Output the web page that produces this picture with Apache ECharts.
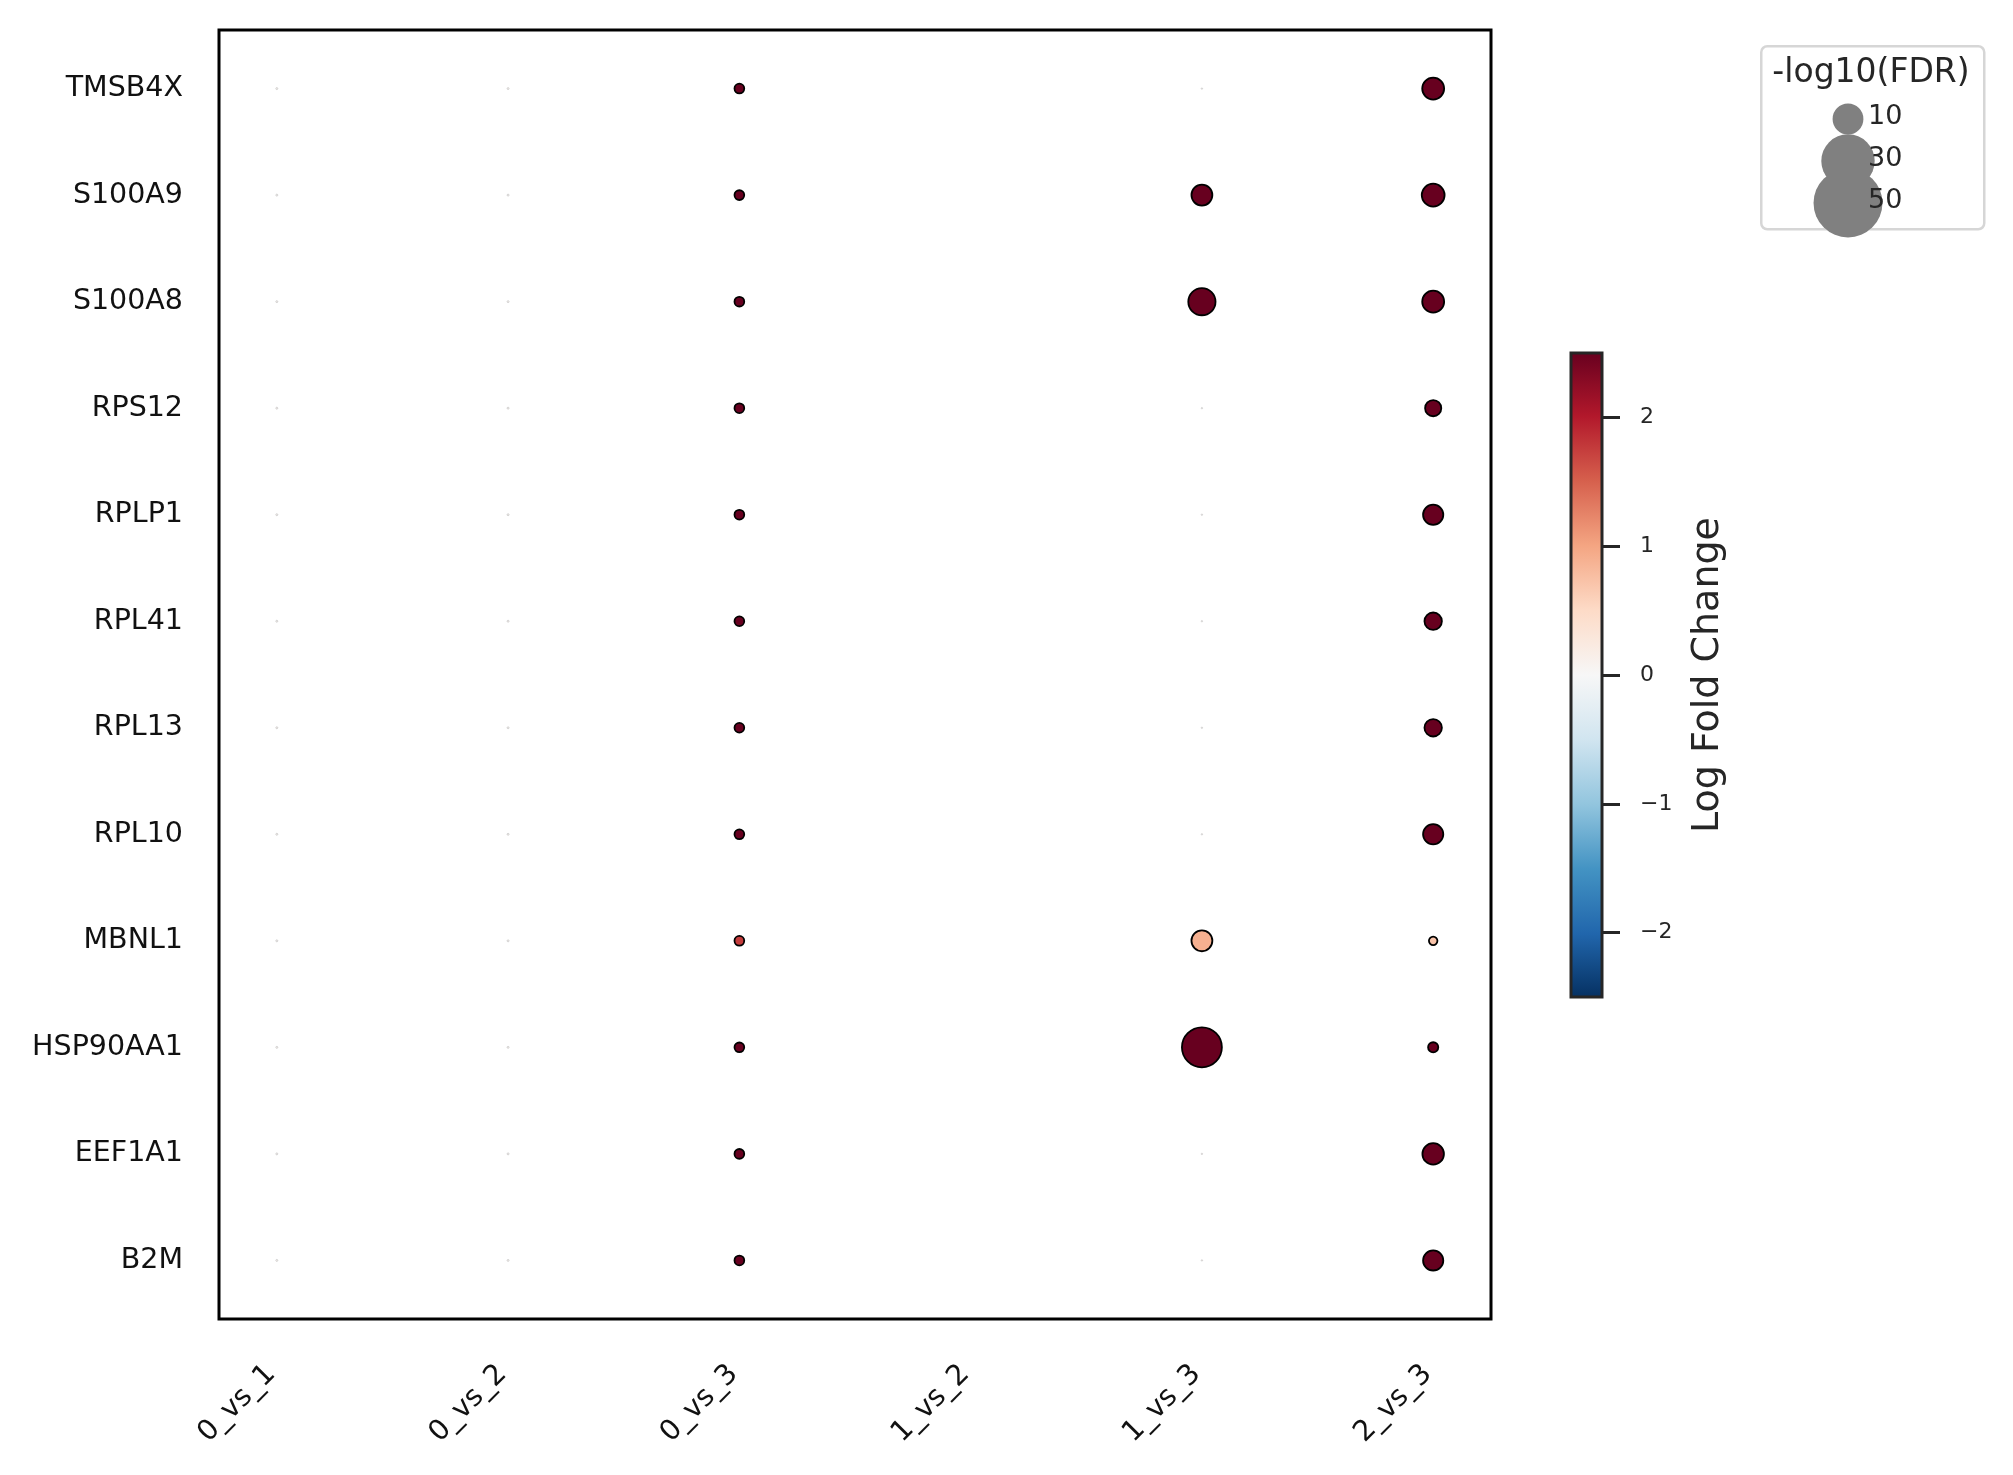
<!DOCTYPE html>
<html>
<head>
<meta charset="utf-8">
<script src="https://cdn.jsdelivr.net/npm/echarts@6/dist/echarts.min.js"></script>
<style>
  html, body { margin: 0; padding: 0; background: #fff; }
  #chart { width: 2013px; height: 1475px; }
</style>
</head>
<body>
<div id="chart"></div>
<script>
const genes = ['TMSB4X', 'S100A9', 'S100A8', 'RPS12', 'RPLP1', 'RPL41', 'RPL13', 'RPL10', 'MBNL1', 'HSP90AA1', 'EEF1A1', 'B2M']
const comparisons = ['0_vs_1', '0_vs_2', '0_vs_3', '1_vs_2', '1_vs_3', '2_vs_3']

// log fold change, one array per comparison, in gene order
const lfc0v1 = [0.1, 0.1, 0.1, 0.1, 0.1, 0.1, 0.1, 0.1, 0.1, 0.1, 0.1, 0.1]
const lfc0v2 = [0.1, 0.1, 0.1, 0.1, 0.1, 0.1, 0.1, 0.1, 0.1, 0.1, 0.1, 0.1]
const lfc0v3 = [2.9, 3.1, 3.0, 2.8, 2.7, 2.8, 2.8, 2.9, 1.75, 3.0, 2.7, 3.2]
const lfc1v2 = [0, 0, 0, 0, 0, 0, 0, 0, 0, 0, 0, 0]
const lfc1v3 = [0.1, 3.4, 3.6, 0.1, 0.1, 0.1, 0.1, 0.1, 0.9, 3.8, 0.1, 0.1]
const lfc2v3 = [3.0, 3.2, 3.1, 2.9, 2.8, 2.9, 2.9, 3.0, 0.72, 2.6, 3.3, 3.1]

// -log10(FDR), same layout
const fdr0v1 = [0.04, 0.04, 0.04, 0.04, 0.04, 0.04, 0.04, 0.04, 0.04, 0.04, 0.04, 0.04]
const fdr0v2 = [0.04, 0.04, 0.04, 0.04, 0.04, 0.04, 0.04, 0.04, 0.04, 0.04, 0.04, 0.04]
const fdr0v3 = [1.0, 1.0, 1.0, 1.0, 1.0, 1.0, 1.0, 1.0, 1.0, 1.0, 1.0, 1.0]
const fdr1v2 = [0, 0, 0, 0, 0, 0, 0, 0, 0, 0, 0, 0]
const fdr1v3 = [0.02, 4.6, 7.8, 0.02, 0.02, 0.02, 0.02, 0.02, 4.6, 16.8, 0.02, 0.02]
const fdr2v3 = [5.05, 5.5, 5.05, 2.76, 4.3, 3.2, 3.2, 4.3, 0.76, 1.1, 4.87, 4.3]

const sizeLegend = [10, 30, 50]
const cbarTicks = [-2, -1, 0, 1, 2]

const lfcCols = [lfc0v1, lfc0v2, lfc0v3, lfc1v2, lfc1v3, lfc2v3]
const fdrCols = [fdr0v1, fdr0v2, fdr0v3, fdr1v2, fdr1v3, fdr2v3]

const LIM = 2.5
const rdbu = ['#053061', '#2166ac', '#4393c3', '#92c5de', '#d1e5f0', '#f7f7f7',
  '#fddbc7', '#f4a582', '#d6604d', '#b2182b', '#67001f']
const FONT = 'DejaVu Sans'
const dotSize = (v) => Math.sqrt(95 * v)

const points = []
comparisons.forEach((c, ci) => {
  genes.forEach((g, gi) => {
    const l = lfcCols[ci][gi]
    const f = fdrCols[ci][gi]
    const d = dotSize(f)
    // dim 2 is the colour value clipped to the colorbar range, dim 4 the raw value
    const item = { value: [ci, gi, Math.max(-LIM, Math.min(LIM, l)), f, l] }
    if (d === 0) item.itemStyle = { borderWidth: 0 }
    else if (d < 3) item.itemStyle = { borderColor: '#c8c8c8', borderWidth: 0.8 }
    points.push(item)
  })
})

const cbarStops = rdbu.map((col, i) => ({ offset: 1 - i / (rdbu.length - 1), color: col }))

const chart = echarts.init(document.getElementById('chart'), null, { renderer: 'canvas' })
chart.setOption({
  backgroundColor: '#fff',
  animation: false,
  textStyle: { fontFamily: FONT },
  grid: [
    { left: 219, top: 30, width: 1272, height: 1289, show: true, borderColor: '#000', borderWidth: 3, backgroundColor: 'transparent' },
    { left: 1571, top: 353, width: 31, height: 644, show: true, borderColor: '#262626', borderWidth: 3,
      backgroundColor: new echarts.graphic.LinearGradient(0, 0, 0, 1, cbarStops) },
    { left: 1838, top: 119, width: 20, height: 84 }
  ],
  xAxis: [
    {
      gridIndex: 0, type: 'value', min: -0.25, max: 5.25,
      splitLine: { show: false }, axisLine: { show: false }, axisTick: { show: false },
      axisLabel: {
        customValues: comparisons.map((c, i) => i),
        formatter: (v) => comparisons[Math.round(v)],
        rotate: 45, margin: 45, fontSize: 28.5, color: '#111', fontFamily: FONT,
        padding: [0, 8, 32, 0]
      }
    },
    { gridIndex: 1, type: 'value', min: -1, max: 1, show: false },
    { gridIndex: 2, type: 'value', min: 0, max: 1, show: false }
  ],
  yAxis: [
    {
      gridIndex: 0, type: 'value', min: -0.55, max: 11.55, inverse: true,
      splitLine: { show: false }, axisLine: { show: false, onZero: false }, axisTick: { show: false },
      axisLabel: {
        customValues: genes.map((g, i) => i),
        formatter: (v) => genes[Math.round(v)],
        margin: 36, fontSize: 28.5, color: '#111', fontFamily: FONT
      }
    },
    {
      gridIndex: 1, type: 'value', min: -LIM, max: LIM, position: 'right',
      splitLine: { show: false }, axisLine: { show: false, onZero: false },
      axisTick: { show: true, inside: false, customValues: cbarTicks, length: 18, lineStyle: { color: '#262626', width: 3 } },
      axisLabel: {
        customValues: cbarTicks,
        formatter: (v) => String(v).replace('-', '\u2212'),
        margin: 38, fontSize: 22, color: '#262626', fontFamily: FONT
      }
    },
    { gridIndex: 2, type: 'value', min: 0, max: 2, inverse: true, show: false }
  ],
  visualMap: {
    type: 'continuous', show: false, min: -LIM, max: LIM, dimension: 2, seriesIndex: 0,
    inRange: { color: rdbu }
  },
  graphic: [
    { type: 'rect', left: 1760, top: 45, z: 0,
      shape: { width: 223, height: 183, r: 6 },
      style: { fill: '#fff', stroke: '#d6d6d6', lineWidth: 2.5 } },
    { type: 'text', x: 1871, y: 73, z: 1,
      style: { text: '-log10(FDR)', font: '33px "DejaVu Sans"', fill: '#262626', align: 'center', verticalAlign: 'middle' } },
    { type: 'text', x: 1708, y: 675, rotation: Math.PI / 2,
      style: { text: 'Log Fold Change', font: '38px "DejaVu Sans"', fill: '#262626', align: 'center', verticalAlign: 'middle' } }
  ],
  series: [
    {
      type: 'scatter', xAxisIndex: 0, yAxisIndex: 0,
      data: points,
      symbolSize: (val) => dotSize(val[3]),
      itemStyle: { borderColor: '#000', borderWidth: 1.8, opacity: 1 }
    },
    {
      type: 'scatter', xAxisIndex: 2, yAxisIndex: 2, z: 5,
      data: sizeLegend.map((v, i) => [0.5, i, v]),
      symbolSize: (val) => dotSize(val[2]),
      itemStyle: { color: '#808080', opacity: 1 },
      label: {
        show: true, position: 'inside', align: 'left', offset: [20, -2],
        formatter: (p) => String(p.value[2]), color: '#262626', fontSize: 27, fontFamily: FONT
      }
    }
  ]
})
</script>
</body>
</html>
